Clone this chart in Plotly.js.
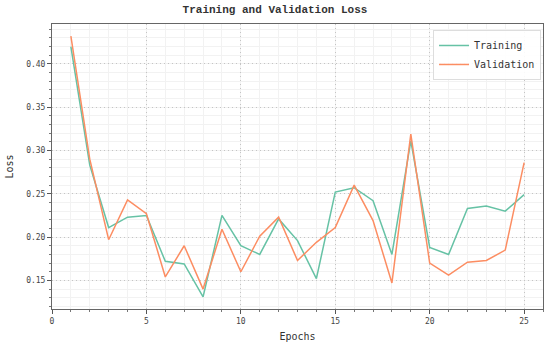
<!DOCTYPE html>
<html>
<head>
<meta charset="utf-8">
<script src="https://cdn.plot.ly/plotly-3.0.1.min.js"></script>
<style>html,body{margin:0;padding:0;background:#fff;}#chart{width:550px;height:351px;}</style>
</head>
<body>
<div id="chart"></div>
<script>
const epochs = [1,2,3,4,5,6,7,8,9,10,11,12,13,14,15,16,17,18,19,20,21,22,23,24,25];
const trainingLoss = [0.420,0.283,0.211,0.223,0.225,0.172,0.169,0.131,0.225,0.190,0.180,0.221,0.196,0.152,0.252,0.257,0.242,0.180,0.311,0.188,0.180,0.233,0.236,0.230,0.249];
const validationLoss = [0.432,0.290,0.197,0.243,0.227,0.154,0.190,0.140,0.209,0.160,0.201,0.223,0.173,0.194,0.211,0.260,0.219,0.147,0.319,0.170,0.156,0.171,0.173,0.185,0.286];
const xTicks = [0,5,10,15,20,25];
const yTicks = [0.15,0.20,0.25,0.30,0.35,0.40];

const mono = 'DejaVu Sans Mono, monospace';
const data = [
  {x: epochs, y: trainingLoss, name: 'Training', type: 'scatter', mode: 'lines',
   line: {color: '#66c2a5', width: 1.5}},
  {x: epochs, y: validationLoss, name: 'Validation', type: 'scatter', mode: 'lines',
   line: {color: '#fc8d62', width: 1.5}}
];
const layout = {
  width: 550, height: 351,
  margin: {l: 52, r: 7, t: 24, b: 42},
  paper_bgcolor: '#fff', plot_bgcolor: '#fff',
  title: {text: 'Training and Validation Loss', x: 0.5, xanchor: 'center', y: 0.985, yanchor: 'top',
          font: {family: 'Liberation Mono, Courier New, monospace', size: 11, color: '#333', weight: 'bold'}},
  xaxis: {
    range: [0, 26], tickvals: xTicks, ticktext: xTicks.map(String),
    ticks: 'outside', ticklen: 4, tickcolor: '#555', tickwidth: 1,
    showline: true, linecolor: '#666', linewidth: 1, mirror: true,
    showgrid: true, gridcolor: '#c4c4c4', griddash: '1px,3px', gridwidth: 1,
    zeroline: false,
    tickfont: {family: mono, size: 8, color: '#444'},
    minor: {dtick: 1, ticks: 'outside', ticklen: 2, tickcolor: '#777', showgrid: true, gridcolor: '#f2f2f2', griddash: 'solid', gridwidth: 1},
    title: {text: 'Epochs', font: {family: mono, size: 10, color: '#333'}, standoff: 8}
  },
  yaxis: {
    range: [0.117, 0.446], tickvals: yTicks, ticktext: yTicks.map(v => v.toFixed(2)),
    ticks: 'outside', ticklen: 4, tickcolor: '#555', tickwidth: 1,
    showline: true, linecolor: '#666', linewidth: 1, mirror: true,
    showgrid: true, gridcolor: '#c4c4c4', griddash: '1px,3px', gridwidth: 1,
    zeroline: false,
    tickfont: {family: mono, size: 8, color: '#444'},
    minor: {dtick: 0.01, tick0: 0, ticks: 'outside', ticklen: 2, tickcolor: '#777', showgrid: true, gridcolor: '#f2f2f2', griddash: 'solid', gridwidth: 1},
    title: {text: 'Loss', font: {family: mono, size: 10, color: '#333'}, standoff: 10}
  },
  legend: {x: 0.996, xanchor: 'right', y: 0.979, yanchor: 'top',
           bgcolor: 'rgba(255,255,255,0.9)', bordercolor: '#ddd', borderwidth: 1,
           font: {family: mono, size: 10, color: '#333'}, itemwidth: 30, tracegroupgap: 0},
  showlegend: true
};
Plotly.newPlot('chart', data, layout, {displayModeBar: false, staticPlot: true});
</script>
</body>
</html>
